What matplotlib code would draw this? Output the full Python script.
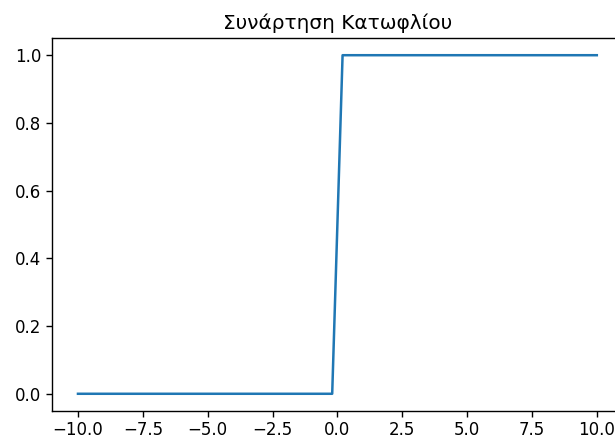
import matplotlib
matplotlib.use("Agg")
import matplotlib.pyplot as plt

# step (threshold) function, breakpoints
x = [-10.0, -0.2, 0.2, 10.0]
y = [0.0, 0.0, 1.0, 1.0]

xticks = [-10.0, -7.5, -5.0, -2.5, 0.0, 2.5, 5.0, 7.5, 10.0]
yticks = [0.0, 0.2, 0.4, 0.6, 0.8, 1.0]

fig = plt.figure(figsize=(6.15, 4.41), dpi=100)
# the original screenshot is cropped on the right, so the axes run past the edge
ax = fig.add_axes([0.0846, 0.0687, 0.928, 0.8445])
ax.plot(x, y, color="#1f77b4", linewidth=1.8)
ax.set_xticks(xticks)
ax.set_yticks(yticks)
ax.tick_params(labelsize=12, length=4.2, width=1)
for s in ax.spines.values():
    s.set_linewidth(1)
ax.set_title("Συνάρτηση Κατωφλίου", fontsize=14.4, pad=7)

fig.savefig("out.png", dpi=100)
